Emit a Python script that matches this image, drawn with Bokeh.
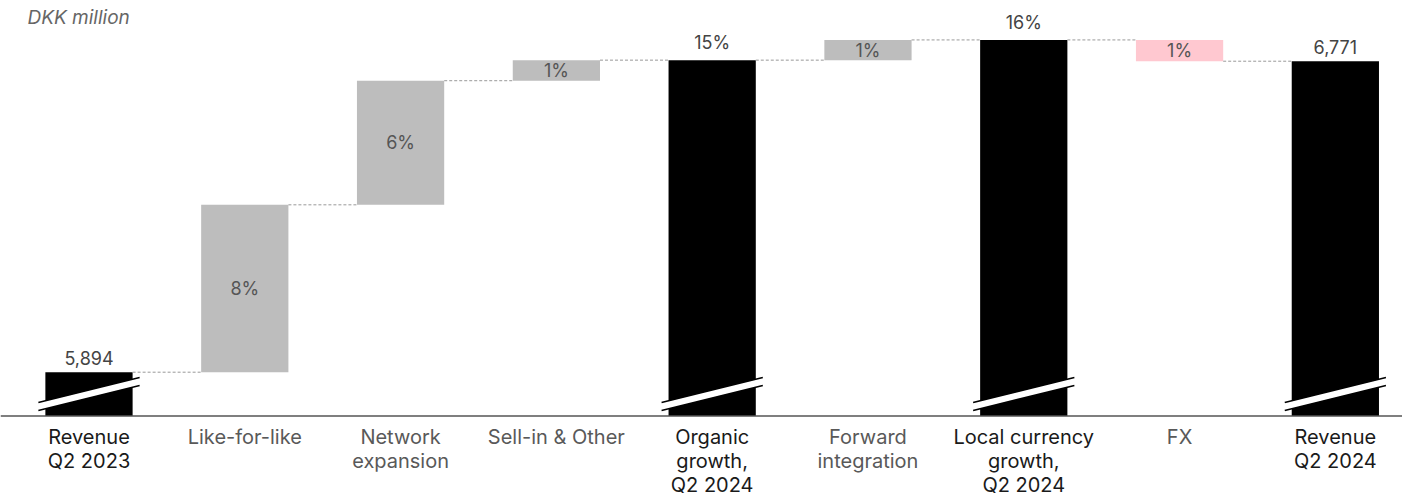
from bokeh.plotting import figure
from bokeh.models import Range1d, Span, ColumnDataSource
from bokeh.core.properties import value
from bokeh.embed import file_html
from bokeh.resources import INLINE

# ---- data ----
categories = ["Revenue\nQ2 2023", "Like-for-like", "Network\nexpansion", "Sell-in & Other",
              "Organic\ngrowth,\nQ2 2024", "Forward\nintegration", "Local currency\ngrowth,\nQ2 2024",
              "FX", "Revenue\nQ2 2024"]
kinds = ["total", "step", "step", "step", "subtotal", "step", "subtotal", "step", "total"]
deltas = [5894, 472, 350, 58, 0, 57, 0, -60, 0]
value_labels = ["5,894", "8%", "6%", "1%", "15%", "1%", "16%", "1%", "6,771"]

# ---- layout constants ----
W, H = 1402, 493
X0, X1 = -0.568, 8.431
Y0, Y1 = 5551.9, 6942.2
BASE = 5770.5          # broken-axis baseline
BAR_W = 0.56
FONT = value("Inter")

def dy(px):
    return px * (Y1 - Y0) / H

def dx(px):
    return px * (X1 - X0) / W

# ---- waterfall computation ----
xs, bottoms, tops, colors, ends = [], [], [], [], []
running = 0
for i, (k, d) in enumerate(zip(kinds, deltas)):
    xs.append(i)
    if k == "total" and i == 0:
        running = d
        bottoms.append(BASE); tops.append(running); colors.append("#000000")
    elif k in ("total", "subtotal"):
        bottoms.append(BASE); tops.append(running); colors.append("#000000")
    else:
        start = running
        running = running + d
        bottoms.append(min(start, running)); tops.append(max(start, running))
        colors.append("#bdbdbd" if d >= 0 else "#ffc8d0")
    ends.append(running)

p = figure(width=W, height=H, x_range=Range1d(X0, X1), y_range=Range1d(Y0, Y1),
           output_backend="svg", toolbar_location=None, min_border=0,
           x_axis_type=None, y_axis_type=None)
p.grid.visible = False
p.outline_line_color = None
p.background_fill_color = "white"
p.border_fill_color = "white"

p.vbar(x=xs, width=BAR_W, bottom=bottoms, top=tops, fill_color=colors, line_color=None)

# baseline
p.add_layout(Span(location=BASE, dimension="width", line_color="#555555", line_width=1.5))

# axis-break marks on black bars
bx, by, tl_x, tl_y = [], [], [], []
ext = BAR_W / 2 + dx(7)
for i, k in enumerate(kinds):
    if k in ("total", "subtotal"):
        xl, xr = i - ext, i + ext
        lb, lt = BASE + dy(5.5), BASE + dy(13.5)
        rb, rt = BASE + dy(30.5), BASE + dy(38.5)
        bx.append([xl, xr, xr, xl]); by.append([lb, rb, rt, lt])
        tl_x += [[xl, xr], [xl, xr]]; tl_y += [[lb, rb], [lt, rt]]
p.patches(bx, by, fill_color="white", line_color=None)
p.multi_line(tl_x, tl_y, line_color="#000000", line_width=1.6)

# connectors
cx0, cx1, cy = [], [], []
for i in range(len(kinds) - 1):
    cx0.append(i + BAR_W / 2); cx1.append(i + 1 - BAR_W / 2); cy.append(ends[i])
p.segment(x0=cx0, y0=cy, x1=cx1, y1=cy, line_color="#999999", line_width=1, line_dash="3 2")

# value labels
in_x, in_y, in_t = [], [], []
top_x, top_y, top_t = [], [], []
for i, k in enumerate(kinds):
    if k == "step":
        in_x.append(i); in_y.append((bottoms[i] + tops[i]) / 2); in_t.append(value_labels[i])
    else:
        top_x.append(i); top_y.append(tops[i] + dy(7)); top_t.append(value_labels[i])
p.text(x=in_x, y=in_y, text=in_t, text_font=FONT, text_font_size="18px",
       text_color="#555555", text_align="center", text_baseline="middle")
p.text(x=top_x, y=top_y, text=top_t, text_font=FONT, text_font_size="18px",
       text_color="#444444", text_align="center", text_baseline="bottom")

# category labels
cat_colors = ["#1a1a1a" if k != "step" else "#595959" for k in kinds]
src = ColumnDataSource(dict(x=xs, y=[BASE - dy(9)] * len(xs), t=categories, c=cat_colors))
p.text(x="x", y="y", text="t", text_color="c", source=src, text_font=FONT,
       text_font_size="20px", text_align="center", text_baseline="top", text_line_height=1.0)

# unit label
p.text(x=[X0 + dx(27)], y=[Y1 - dy(5)], text=["DKK million"], text_font=FONT,
       text_font_size="19px", text_font_style="italic", text_color="#666666",
       text_align="left", text_baseline="top")

open("out.html", "w").write(file_html(p, INLINE))
